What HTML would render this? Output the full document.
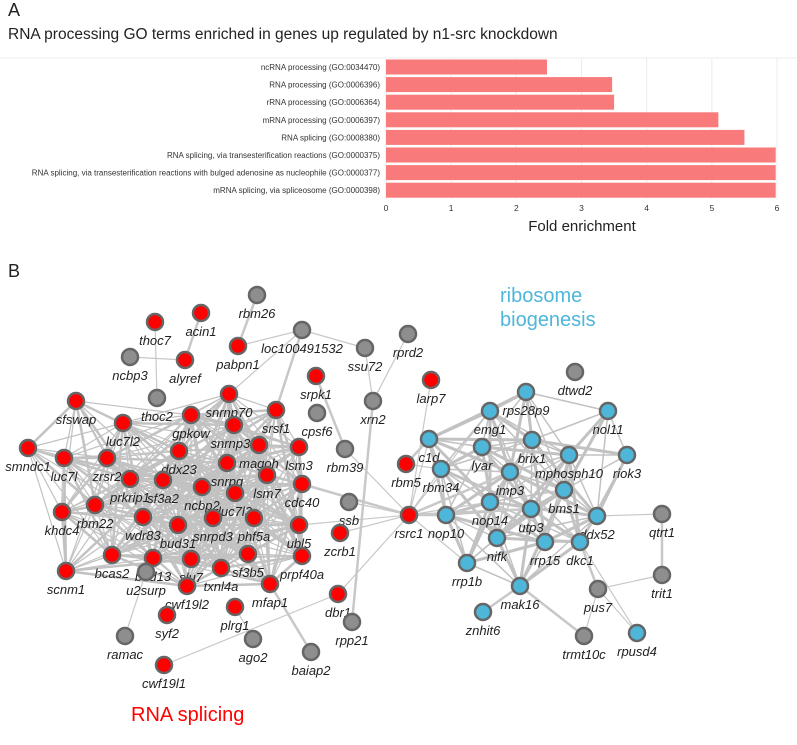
<!DOCTYPE html>
<html><head><meta charset="utf-8"><style>
body{margin:0;background:#fff;font-family:"Liberation Sans",sans-serif}
svg{display:block}
</style></head><body>
<svg id="s" width="797" height="745" font-family="Liberation Sans, sans-serif"></svg>
<script>
const terms=["ncRNA processing (GO:0034470)","RNA processing (GO:0006396)","rRNA processing (GO:0006364)","mRNA processing (GO:0006397)","RNA splicing (GO:0008380)","RNA splicing, via transesterification reactions (GO:0000375)","RNA splicing, via transesterification reactions with bulged adenosine as nucleophile (GO:0000377)","mRNA splicing, via spliceosome (GO:0000398)"];
const folds=[2.47,3.47,3.5,5.1,5.5,5.98,5.98,5.98];
const ticks=[0,1,2,3,4,5,6];
const nodeNames=["rbm26","acin1","thoc7","pabpn1","loc100491532","ssu72","ncbp3","alyref","srpk1","snrnp70","xrn2","thoc2","sfswap","gpkow","srsf1","cpsf6","luc7l2","snrnp35","smndc1","luc7l","zrsr2","ddx23","magoh","lsm3","rbm39","snrpg","lsm7","prkrip1","sf3a2","ncbp2","luc7l3","cdc40","ssb","rbm22","khdc4","wdr83","bud31","snrpd3","phf5a","ubl5","zcrb1","bcas2","bud13","slu7","txnl4a","sf3b5","prpf40a","scnm1","u2surp","cwf19l2","mfap1","plrg1","dbr1","syf2","rpp21","ramac","ago2","baiap2","cwf19l1","rprd2","larp7","rbm5","rsrc1","rps28p9","dtwd2","emg1","nol11","c1d","lyar","brix1","mphosph10","riok3","rbm34","imp3","bms1","nop14","utp3","ddx52","qtrt1","nop10","nifk","rrp15","dkc1","rrp1b","trit1","pus7","mak16","znhit6","trmt10c","rpusd4"];
const nodeX=[257,201,155,238,302,365,130,185,316,229,373,157,76,191,276,317,123,234,28,64,107,179,259,299,345,227,267,130,163,202,235,302,349,95,62,143,178,213,254,299,340,112,153,191,221,248,302,66,146,187,270,235,338,167,352,125,253,311,164,408,431,406,409,526,575,490,608,429,482,532,569,627,441,510,564,490,531,597,662,446,497,545,580,467,662,598,520,483,584,637];
const nodeY=[295,313,322,346,330,348,357,360,376,394,401,398,401,415,410,413,423,425,448,458,458,451,445,447,449,463,475,479,480,487,493,484,502,505,512,517,525,518,518,525,533,555,558,559,568,554,556,571,572,586,584,607,594,615,622,636,639,652,665,334,380,464,515,392,372,411,411,439,447,440,455,455,469,472,490,502,509,516,514,515,538,542,542,563,575,589,586,612,636,633];
const nodeGroup=["g","r","r","r","g","g","g","r","r","r","g","g","r","r","r","g","r","r","r","r","r","r","r","r","g","r","r","r","r","r","r","r","g","r","r","r","r","r","r","r","r","r","r","r","r","r","r","r","g","r","r","r","r","r","g","g","g","g","r","g","r","r","r","b","g","b","b","b","b","b","b","b","b","b","b","b","b","b","g","b","b","b","b","b","g","g","b","b","g","b"];
const extraEdges=[["rbm26","pabpn1"],["loc100491532","ssu72"],["loc100491532","pabpn1"],["loc100491532","srsf1"],["loc100491532","snrnp70"],["rprd2","xrn2"],["xrn2","rpp21"],["xrn2","ssu72"],["rbm39","rsrc1"],["rbm39","srpk1"],["ssb","rsrc1"],["zcrb1","rsrc1"],["cdc40","rsrc1"],["ubl5","rsrc1"],["rsrc1","rbm34"],["rsrc1","nop10"],["rsrc1","c1d"],["rsrc1","emg1"],["rsrc1","imp3"],["rsrc1","nop14"],["rsrc1","rrp1b"],["rsrc1","utp3"],["rsrc1","dbr1"],["rbm5","rbm34"],["rbm5","c1d"],["larp7","rsrc1"],["dbr1","cwf19l1"],["dkc1","pus7"],["pus7","trit1"],["pus7","trmt10c"],["trit1","qtrt1"],["pus7","rpusd4"],["dkc1","rpusd4"],["mak16","znhit6"],["sfswap","luc7l2"],["smndc1","luc7l"],["luc7l","khdc4"],["ncbp3","alyref"],["thoc7","thoc2"],["acin1","alyref"],["ramac","u2surp"],["ago2","plrg1"],["baiap2","mfap1"],["nol11","riok3"],["ddx52","qtrt1"],["mak16","trmt10c"]];
const S=document.getElementById('s');
const NS="http://www.w3.org/2000/svg";
function mk(t,a,p){const e=document.createElementNS(NS,t);for(const k in a)e.setAttribute(k,a[k]);(p||S).appendChild(e);return e;}
const x0=386,x1=777,ax=v=>x0+(x1-x0)*v/6;
const rowY=i=>67+i*17.6;
let t=mk('text',{x:8,y:16,'font-size':18,fill:'#222'});t.textContent='A';

t=mk('text',{x:8,y:39,'font-size':15.5,fill:'#222'});t.textContent='RNA processing GO terms enriched in genes up regulated by n1-src knockdown';

mk('line',{x1:0,y1:58,x2:797,y2:58,stroke:'#eee'});
ticks.forEach(v=>{const l=mk('line',{x1:ax(v),y1:58,x2:ax(v),y2:199,stroke:'#ececec'});

const tt=mk('text',{x:ax(v),y:211,'font-size':8.5,'text-anchor':'middle',fill:'#333'});tt.textContent=v;
});
terms.forEach((n,i)=>{const b=mk('rect',{x:x0,y:rowY(i)-7.5,width:ax(folds[i])-x0,height:15,fill:'#f87a7a'});

const lb=mk('text',{x:380,y:rowY(i)+3,'font-size':8,'text-anchor':'end',fill:'#333'});lb.textContent=n;
});
t=mk('text',{x:582,y:231,'font-size':15,'text-anchor':'middle',fill:'#222'});t.textContent='Fold enrichment';

t=mk('text',{x:8,y:277,'font-size':18,fill:'#222'});t.textContent='B';

const idx={};nodeNames.forEach((n,i)=>idx[n]=i);
const eg=mk('g',{});
function edge(i,j,w,c){const l=mk('line',{x1:nodeX[i],y1:nodeY[i],x2:nodeX[j],y2:nodeY[j],stroke:c,'stroke-width':w},eg);
}
for(let i=0;i<nodeNames.length;i++)for(let j=i+1;j<nodeNames.length;j++){
 const gi=nodeGroup[i],gj=nodeGroup[j];const d=Math.hypot(nodeX[i]-nodeX[j],nodeY[i]-nodeY[j]);
 if(gi==='r'&&gj==='r'&&nodeX[i]<320&&nodeX[j]<320&&nodeY[i]>380&&nodeY[j]>380&&nodeY[i]<600&&nodeY[j]<600&&d<150) edge(i,j,(i+j)%3?1.2:2.5,'#c2c2c2');
 else if(gi==='b'&&gj==='b'&&d<110&&nodeY[i]<600&&nodeY[j]<600) edge(i,j,(i+j)%2?1.5:3,'#c2c2c2');
}
extraEdges.forEach(([a,b],k)=>edge(idx[a],idx[b],k%3?1.2:2.5,'#c8c8c8'));
const col={r:'#ff0000',g:'#8e8e8e',b:'#4db6d9'};
nodeNames.forEach((n,i)=>{const c=mk('circle',{cx:nodeX[i],cy:nodeY[i],r:8,fill:col[nodeGroup[i]],stroke:'#666','stroke-width':2.5});

const l=mk('text',{x:nodeX[i],y:nodeY[i]+23,'font-size':13,'font-style':'italic','text-anchor':'middle',fill:'#222'});l.textContent=n;
});
t=mk('text',{x:500,y:302,'font-size':20,fill:'#4db6d9'});t.textContent='ribosome';

t=mk('text',{x:500,y:326,'font-size':20,fill:'#4db6d9'});t.textContent='biogenesis';

t=mk('text',{x:131,y:721,'font-size':20,fill:'#ff0000'});t.textContent='RNA splicing';

</script>
</body></html>
